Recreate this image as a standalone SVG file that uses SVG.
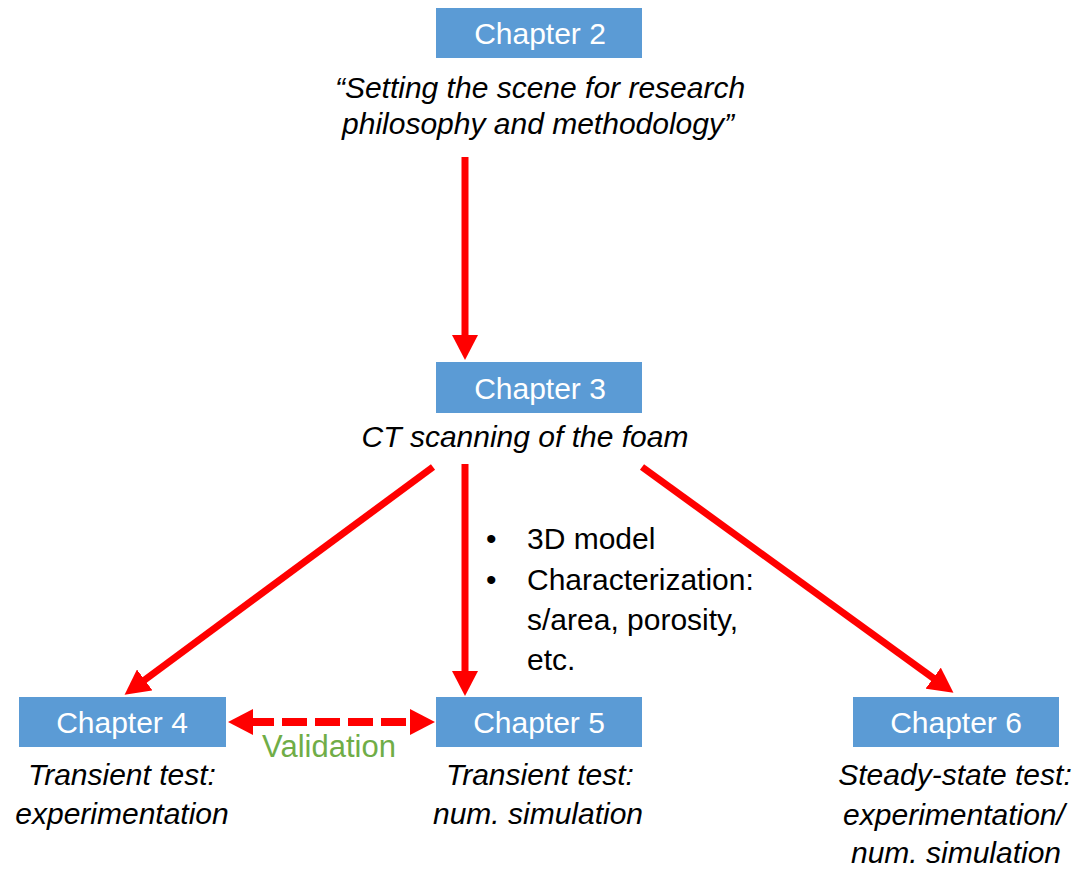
<svg xmlns="http://www.w3.org/2000/svg" width="1086" height="874" viewBox="0 0 1086 874">
<style>
.box{fill:#5B9BD5}
.bt{font-family:"Liberation Sans",Arial,sans-serif;font-size:30px;fill:#ffffff;text-anchor:middle}
.it{font-family:"Liberation Sans",Arial,sans-serif;font-size:30px;font-style:italic;fill:#000;text-anchor:middle}
.tx{font-family:"Liberation Sans",Arial,sans-serif;font-size:30px;fill:#000}
.val{font-family:"Liberation Sans",Arial,sans-serif;font-size:31px;fill:#70AD47;text-anchor:middle}
.arr{stroke:#FF0000;stroke-width:7;fill:none;marker-end:url(#ah)}
.dash{stroke:#FF0000;stroke-width:8;fill:none;stroke-dasharray:25 8;stroke-dashoffset:3;marker-start:url(#ah2);marker-end:url(#ah2)}
</style>
<defs>
<marker id="ah" markerUnits="userSpaceOnUse" viewBox="0 0 25 26" markerWidth="25" markerHeight="26" refX="1" refY="13" orient="auto">
<path d="M0,0 L25,13 L0,26 z" fill="#FF0000"/>
</marker>
<marker id="ah2" markerUnits="userSpaceOnUse" viewBox="0 0 25 26" markerWidth="25" markerHeight="26" refX="1" refY="13" orient="auto-start-reverse">
<path d="M0,0 L25,13 L0,26 z" fill="#FF0000"/>
</marker>
</defs>
<rect width="1086" height="874" fill="#ffffff"/>
<g id="connectors">
<line class="arr" x1="465" y1="157" x2="465" y2="336"/>
<line class="arr" x1="465" y1="464" x2="465" y2="672"/>
<line class="arr" x1="433" y1="467" x2="143.9" y2="680.5"/>
<line class="arr" x1="642" y1="467" x2="934" y2="678.7"/>
<line class="dash" x1="252" y1="722" x2="411" y2="722"/>
</g>
<g id="chapter2">
<rect class="box" x="436" y="8" width="206" height="50"/>
<text class="bt" x="540" y="44">Chapter 2</text>
<text class="it" x="540" y="98">“Setting the scene for research</text>
<text class="it" x="538" y="134">philosophy and methodology”</text>
</g>
<g id="chapter3">
<rect class="box" x="436" y="362" width="206" height="51"/>
<text class="bt" x="540" y="399">Chapter 3</text>
<text class="it" x="525" y="447">CT scanning of the foam</text>
</g>
<g id="notes">
<text class="tx" x="486" y="549">•</text>
<text class="tx" x="527" y="549">3D model</text>
<text class="tx" x="486" y="590">•</text>
<text class="tx" x="527" y="590">Characterization:</text>
<text class="tx" x="527" y="630">s/area, porosity,</text>
<text class="tx" x="527" y="670">etc.</text>
</g>
<g id="chapter4">
<rect class="box" x="19" y="697" width="207" height="50"/>
<text class="bt" x="122" y="733">Chapter 4</text>
<text class="it" x="122" y="785">Transient test:</text>
<text class="it" x="122" y="824">experimentation</text>
</g>
<g id="chapter5">
<rect class="box" x="436" y="697" width="206" height="50"/>
<text class="bt" x="539" y="733">Chapter 5</text>
<text class="it" x="540" y="785">Transient test:</text>
<text class="it" x="538" y="824">num. simulation</text>
</g>
<g id="chapter6">
<rect class="box" x="853" y="697" width="206" height="50"/>
<text class="bt" x="956" y="733">Chapter 6</text>
<text class="it" x="955" y="785">Steady-state test:</text>
<text class="it" x="954" y="825">experimentation/</text>
<text class="it" x="956" y="863">num. simulation</text>
</g>
<g id="validation">
<text class="val" x="329" y="757">Validation</text>
</g>
</svg>
